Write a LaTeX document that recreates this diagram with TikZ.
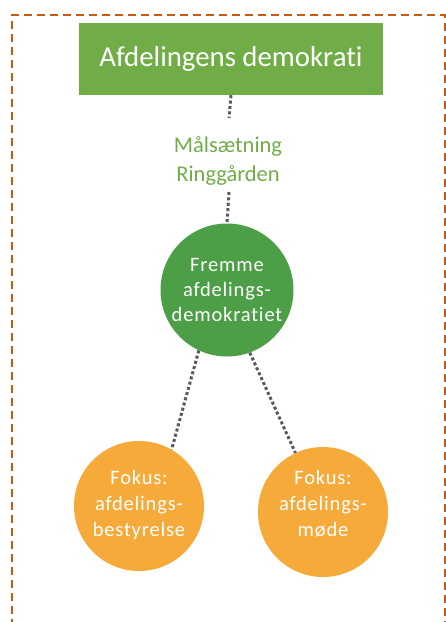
\documentclass[tikz,border=0pt]{standalone}
\usepackage{fontspec}
\setmainfont[Ligatures=NoCommon]{Carlito}
\newfontfamily\spaced[LetterSpace=4,Ligatures=NoCommon]{Carlito}
\definecolor{titlegreen}{HTML}{70AD47}
\definecolor{darkgreen}{HTML}{4C9F47}
\definecolor{orangefill}{HTML}{F5AA3A}
\definecolor{frameorange}{HTML}{C55A11}
\definecolor{dotgrey}{HTML}{595959}
\tikzset{
  x=1pt, y=-1pt,
  connector/.style={draw=dotgrey, line width=3pt, dash pattern=on 3pt off 2.4pt},
  bubble/.style={circle, minimum size=#1, inner sep=0pt},
  bubbletext/.style={text=white, align=center, inner sep=0pt, font=\spaced\fontsize{20.5}{26}\selectfont},
  titlebox/.style={fill=titlegreen, minimum width=304pt, minimum height=72pt, inner sep=0pt, text=white}
}
\begin{document}
\begin{tikzpicture}
\useasboundingbox (0,0) rectangle (446,622);
\draw[frameorange, line width=2.8pt, dash pattern=on 8pt off 5pt] (12,640) -- (12,15) -- (445,15) -- (445,640);
\node[titlebox, font=\fontsize{28.8}{34}\selectfont] (title) at (231,59) {\raisebox{2pt}{Afdelingens demokrati}\hspace{6pt}};
\node[text=titlegreen, align=center, font=\fontsize{22.5}{29}\selectfont] (goal) at (228,161) {Målsætning\\Ringgården};
\coordinate (goaltop) at (229,118);
\coordinate (goalbot) at (229,192);
\node[bubble=133pt, fill=darkgreen] (main) at (227,290) {};
\node[bubbletext, font=\spaced\fontsize{20.5}{25}\selectfont] (maintext) at (227,290) {Fremme\\afdelings-\\demokratiet};
\node[bubble=130pt, fill=orangefill] (left) at (139,506) {};
\node[bubbletext] (lefttext) at (139,505) {Fokus:\\afdelings-\\bestyrelse};
\node[bubble=130pt, fill=orangefill] (right) at (323,512) {};
\node[bubbletext] (righttext) at (323,505) {Fokus:\\afdelings-\\møde\vphantom{y}};
\draw[connector] (title.south) -- (goaltop);
\draw[connector] (goalbot) -- (main.north);
\draw[connector] (main.-115) -- (left.60);
\draw[connector] (main.-70) -- (right.115);
\end{tikzpicture}
\end{document}
